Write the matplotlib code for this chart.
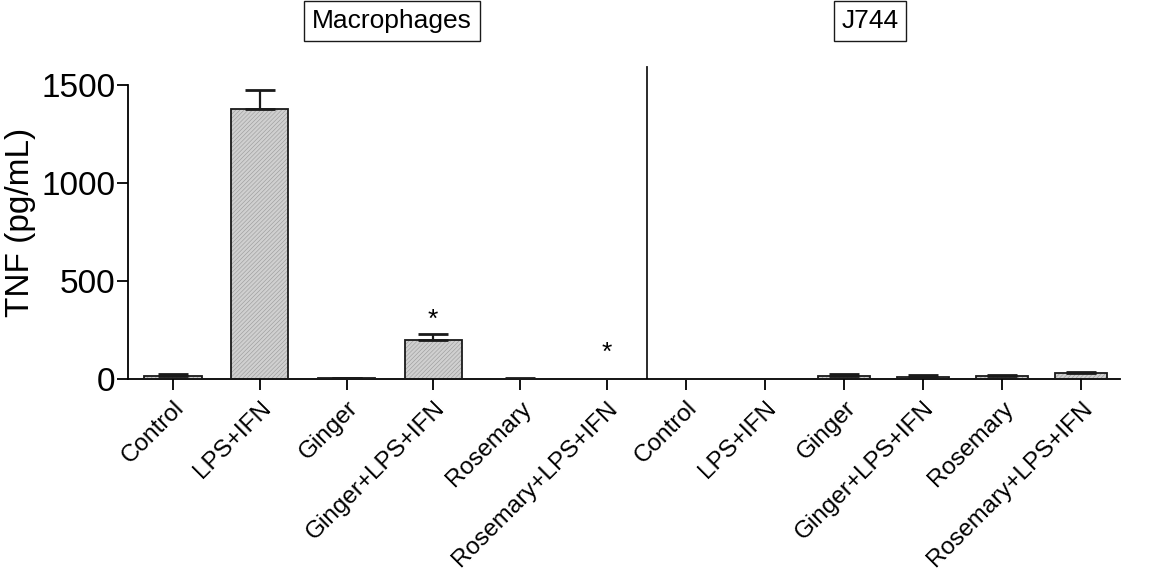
import numpy as np
import matplotlib.pyplot as plt

plt.rcParams['font.family'] = ['Liberation Sans', 'DejaVu Sans']
plt.rcParams['hatch.linewidth'] = 0.4

# treatments, same order for both cell types
treatments = ["Control", "LPS+IFN", "Ginger", "Ginger+LPS+IFN", "Rosemary", "Rosemary+LPS+IFN"]

# TNF (pg/mL), mean and upper error (SEM)
macro_mean = [17, 1375, 3, 200, 2, 0]
macro_err = [8, 100, 4, 28, 2, 0]
j744_mean = [0, 0, 15, 10, 15, 29]
j744_err = [0, 0, 8, 8, 5, 7]

# significance stars (index in group, y position)
star_idx = [3, 5]
star_y = [300, 133]

# layout: left group evenly spaced, right group a bit tighter
x_macro = np.arange(6)
x_j744 = 5.92 + 0.91 * np.arange(6)
divider_x = 5.47

W, H = 1176, 573
fig = plt.figure(figsize=(W / 100, H / 100), dpi=100)
ax = fig.add_axes([128 / W, (H - 379) / H, (1120 - 128) / W, (379 - 65) / H])


def draw_group(x, mean, err, step):
    w = 0.66 * step
    ax.bar(x, mean, width=w, color='#d0d0d0', edgecolor='#999999',
           hatch='////////', linewidth=0, zorder=2)
    ax.bar(x, mean, width=w, facecolor='none', edgecolor='#1a1a1a',
           linewidth=1.3, zorder=3)
    ax.errorbar(x, mean, yerr=[np.zeros(len(err)), err], fmt='none',
                ecolor='#1a1a1a', elinewidth=1.6, capsize=11, capthick=2,
                zorder=4)


draw_group(x_macro, macro_mean, macro_err, 1.0)
draw_group(x_j744, j744_mean, j744_err, 0.91)

for i, y in zip(star_idx, star_y):
    ax.text(x_macro[i], y, "*", ha='center', va='center', fontsize=19)

ax.plot([divider_x, divider_x], [0, 1590], color='#1a1a1a', lw=1.3, zorder=1)

ax.set_xlim(-0.52, 10.92)
ax.set_ylim(0, 1600)
ax.spines['top'].set_visible(False)
ax.spines['right'].set_visible(False)
ax.spines['left'].set_bounds(0, 1500)
ax.spines['left'].set_linewidth(1.3)
ax.spines['bottom'].set_linewidth(1.3)

ax.set_yticks([0, 500, 1000, 1500])
ax.tick_params(axis='y', labelsize=24, length=8, width=1.3, pad=1)
ax.set_xticks(np.concatenate([x_macro, x_j744]))
ax.set_xticklabels(treatments + treatments, rotation=45, ha='right',
                   rotation_mode='anchor', fontsize=17.5)
ax.tick_params(axis='x', length=8, width=1.3, pad=5)
ax.set_ylabel("TNF (pg/mL)", fontsize=24, labelpad=4)

box = dict(boxstyle='square,pad=0.3', facecolor='white', edgecolor='#1a1a1a', lw=1)
fig.text(392 / W, 1 - 21 / H, "Macrophages", ha='center', va='center',
         fontsize=19, bbox=box)
fig.text(870 / W, 1 - 21 / H, "J744", ha='center', va='center',
         fontsize=19, bbox=box)

fig.savefig("out.png", dpi=100)
